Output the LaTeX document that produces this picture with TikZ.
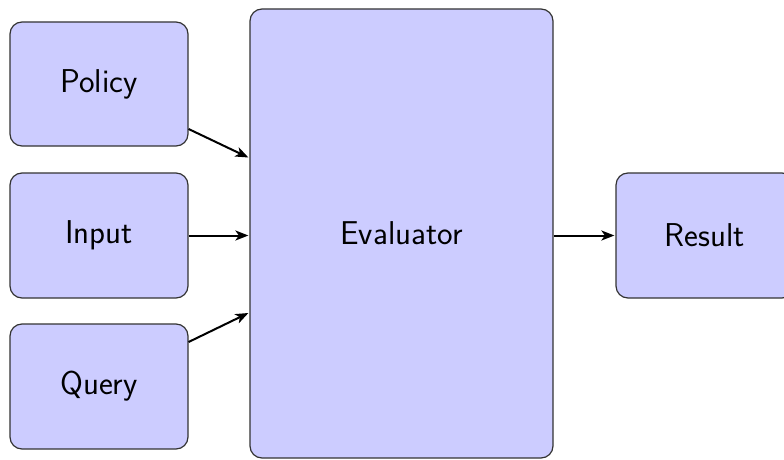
\documentclass[tikz,border=0pt]{standalone}
\usetikzlibrary{arrows.meta}
\begin{document}
\begin{tikzpicture}[x=1pt,y=1pt,
  block/.style={draw=black!80, line width=1.2pt, fill=blue!20, rounded corners=12pt,
    inner sep=0pt, font=\sffamily\fontsize{33}{40}\selectfont},
  flow/.style={line width=2pt, -{Stealth[length=13pt,width=10pt,inset=3.5pt]}}]
  \useasboundingbox (0,0) rectangle (784,459);
  % sources
  \node[block, minimum width=178pt, minimum height=124pt] (policy) at (99,375) {Policy};
  \node[block, minimum width=178pt, minimum height=125pt] (input)  at (99,223.5) {Input};
  \node[block, minimum width=178pt, minimum height=125pt] (query)  at (99,72.5) {Query};
  % central evaluator and its output
  \node[block, minimum width=303pt, minimum height=449pt] (eval) at (401.5,225.5) {Evaluator};
  \node[block, minimum width=178pt, minimum height=125pt] (result) at (705,223.5) {Result};
  % connectors
  \draw[flow] ([yshift=-45pt]policy.east) -- ([xshift=-1pt,yshift=76pt]eval.west);
  \draw[flow] (input.east) -- ([xshift=-1pt,yshift=-2pt]eval.west);
  \draw[flow] ([yshift=44.5pt]query.east) -- ([xshift=-1pt,yshift=-79.5pt]eval.west);
  \draw[flow] ([yshift=-2pt]eval.east) -- ([xshift=-1pt]result.west);
\end{tikzpicture}
\end{document}
